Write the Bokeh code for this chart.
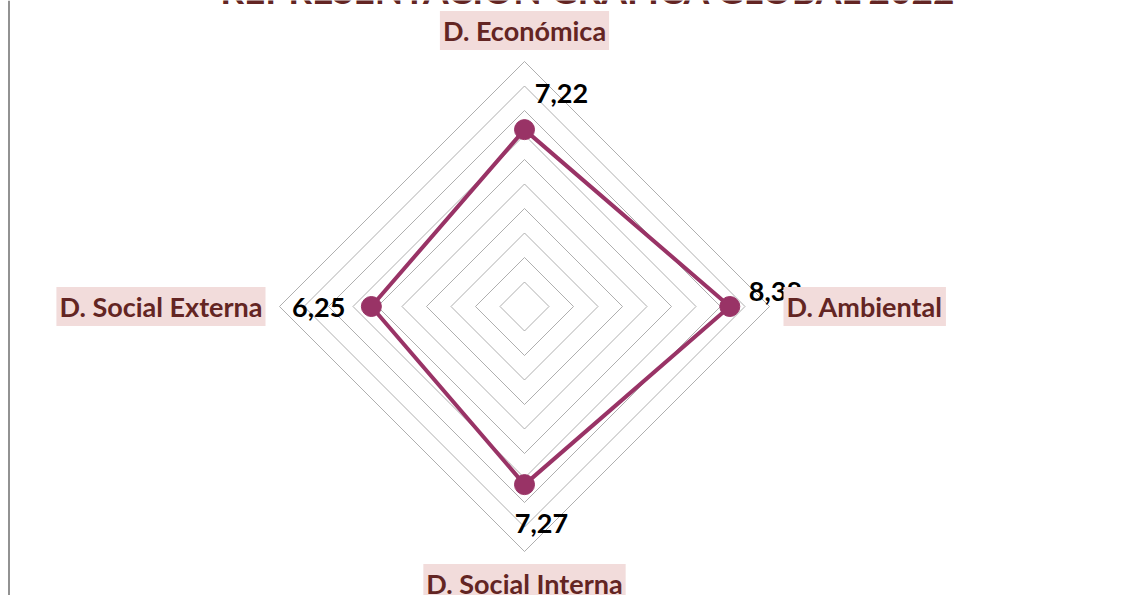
import numpy as np
from bokeh.plotting import figure
from bokeh.models import Range1d, Span, ColumnDataSource
from bokeh.core.properties import value
from bokeh.embed import file_html
from bokeh.resources import INLINE

# ---- data ----
title_text = "REPRESENTACIÓN GRÁFICA GLOBAL 2022"
categories = ["D. Económica", "D. Ambiental", "D. Social Interna", "D. Social Externa"]
scores = [7.22, 8.38, 7.27, 6.25]
score_labels = ["7,22", "8,38", "7,27", "6,25"]
rings = [1, 2, 3, 4, 5, 6, 7, 8, 9, 10]
max_val = 10

# ---- layout / styles ----
W, H = 1131, 595
S = 24.5           # px per unit
CX, CY = 524, 306  # center in figure px (from left, from top)
FONT = "Lato"
SERIES = "#993366"
LABEL_TXT = "#632523"
LABEL_BG = "#F2DCDB"

n = len(categories)
ang = np.pi / 2 - np.arange(n) * 2 * np.pi / n
ux, uy = np.cos(ang), np.sin(ang)

p = figure(width=W, height=H, output_backend="svg", toolbar_location=None,
           x_range=Range1d(-CX / S, (W - CX) / S),
           y_range=Range1d(-(H - CY) / S, CY / S),
           min_border=0)
p.axis.visible = False
p.grid.visible = False
p.outline_line_color = None
p.background_fill_color = "white"
p.border_fill_color = "white"

# grid diamonds
gx = [list(np.append(ux * r, ux[0] * r)) for r in rings]
gy = [list(np.append(uy * r, uy[0] * r)) for r in rings]
p.multi_line(gx, gy, line_color="#9a9a9a", line_width=0.8)

# series
sx = np.array(scores) * ux
sy = np.array(scores) * uy
p.line(list(np.append(sx, sx[0])), list(np.append(sy, sy[0])),
       line_color=SERIES, line_width=4, line_join="round")
p.scatter(sx, sy, size=20, fill_color=SERIES, line_color=SERIES)

# value labels
v_dx = [37, 19, 17, -26]
v_dy = [-36, -15, 39, 1]
v_align = ["center", "left", "center", "right"]
vsrc = ColumnDataSource(dict(x=sx, y=sy, t=score_labels, dx=v_dx, dy=v_dy, al=v_align))
p.text("x", "y", text="t", source=vsrc, x_offset="dx", y_offset="dy",
       text_align="al", text_baseline="middle", text_font=value(FONT),
       text_font_style="bold", text_font_size="27px", text_color="black")

# category labels
c_dx = [0, 14, 0, -14]
c_dy = [-31, 0, 32, 0]
c_align = ["center", "left", "center", "right"]
csrc = ColumnDataSource(dict(x=ux * max_val, y=uy * max_val, t=categories,
                             dx=c_dx, dy=c_dy, al=c_align))
p.text("x", "y", text="t", source=csrc, x_offset="dx", y_offset="dy",
       text_align="al", text_baseline="middle", text_font=value(FONT),
       text_font_style="bold", text_font_size="27px", text_color=LABEL_TXT,
       background_fill_color=LABEL_BG, padding=3)

# title (only its lower edge shows, as in the reference)
tsrc = ColumnDataSource(dict(x=[(588 - CX) / S], y=[CY / S], t=[title_text]))
p.text("x", "y", text="t", source=tsrc, y_offset=-11, text_align="center",
       text_baseline="alphabetic", text_font=value(FONT), text_font_style="bold",
       text_font_size="37px", text_color=LABEL_TXT)

# left border of chart area
p.add_layout(Span(location=(8.5 - CX) / S, dimension="height",
                  line_color="#6e6e6e", line_width=1.5))

open("out.html", "w").write(file_html(p, INLINE))
